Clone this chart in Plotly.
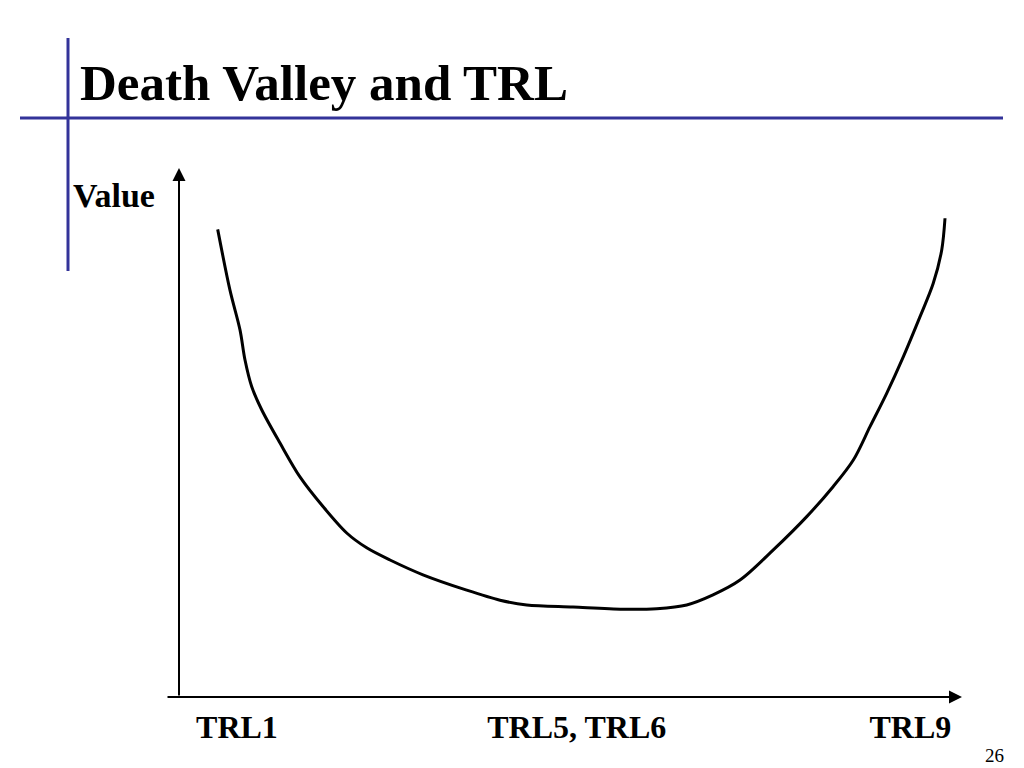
import plotly.graph_objects as go

# Curve data (x: maturity progress along TRL axis 0-100, y: value 0-100)
progress = [4.94, 6.51, 7.79, 8.43, 9.28, 10.56, 12.90, 15.45, 18.39, 21.42, 23.97, 26.95,
            31.16, 36.74, 41.00, 44.41, 50.32, 56.70, 61.01, 64.84, 68.20, 71.65, 75.90,
            80.17, 83.56, 86.12, 88.25, 90.38, 92.50, 94.64, 96.33, 97.41, 97.83]
value = [88.4, 76.9, 69.4, 63.7, 58.7, 54.3, 48.0, 41.6, 36.0, 31.0, 28.2, 25.9,
         23.1, 20.2, 18.3, 17.4, 17.0, 16.6, 16.7, 17.4, 19.3, 22.1, 27.8,
         34.1, 39.8, 44.8, 51.1, 57.4, 64.3, 71.9, 78.2, 84.5, 90.5]

tick_positions = [7.4, 50.8, 93.4]
tick_labels = ["TRL1", "TRL5, TRL6", "TRL9"]

title_text = "Death Valley and TRL"
y_label = "Value"
page_number = "26"

SERIF = "Liberation Serif, Times New Roman, serif"
BLUE = "#333399"

OFF = 8  # page body margin in the browser
FW, FH = 1024 - OFF, 768 - OFF

fig = go.Figure()
fig.add_trace(go.Scatter(
    x=progress, y=value, mode="lines",
    line=dict(color="black", width=3, shape="spline", smoothing=0.9),
    hoverinfo="skip", showlegend=False,
))

# plot domain in screen px: x 179..962, y 168..697
L, R, T, B = 179, 962, 168, 697
W, H = R - L, B - T

def px(xp):
    return (xp - L) / W

def py(yp):
    return (B - yp) / H

fig.update_layout(
    width=FW, height=FH,
    margin=dict(l=L - OFF, r=FW - (R - OFF), t=T - OFF, b=FH - (B - OFF), pad=0),
    paper_bgcolor="white", plot_bgcolor="white",
    showlegend=False,
    xaxis=dict(range=[0, 100], showgrid=False, zeroline=False, showline=False,
               tickmode="array", tickvals=tick_positions, ticktext=tick_labels,
               ticks="", ticklabelstandoff=8,
               tickfont=dict(family=SERIF, size=32, color="black", weight="bold")),
    yaxis=dict(range=[0, 100], showgrid=False, zeroline=False, showline=False,
               showticklabels=False, ticks=""),
    title=dict(text=title_text, xref="container", yref="container",
               x=(80 - OFF) / FW, xanchor="left", y=1 - (82 - OFF) / FH, yanchor="middle",
               font=dict(family=SERIF, size=51, color="black", weight="bold")),
)

# axes with arrows
fig.add_annotation(x=100, y=0, xref="x", yref="y", ax=(166 - L) / W * 100, ay=0,
                   axref="x", ayref="y", showarrow=True, arrowhead=2, arrowsize=1.3,
                   arrowwidth=2, arrowcolor="black", text="")
fig.add_annotation(x=0, y=100, xref="x", yref="y", ax=0, ay=0,
                   axref="x", ayref="y", showarrow=True, arrowhead=2, arrowsize=1.3,
                   arrowwidth=2, arrowcolor="black", text="")

# slide decoration lines
fig.add_shape(type="line", xref="paper", yref="paper", x0=px(20), x1=px(1003),
              y0=py(118), y1=py(118), line=dict(color=BLUE, width=3))
fig.add_shape(type="line", xref="paper", yref="paper", x0=px(68), x1=px(68),
              y0=py(38), y1=py(271), line=dict(color=BLUE, width=3))

fig.add_annotation(text=y_label, xref="paper", yref="paper", x=px(71), y=py(196),
                   xanchor="left", yanchor="middle", showarrow=False,
                   font=dict(family=SERIF, size=34, color="black", weight="bold"))
fig.add_annotation(text=page_number, xref="paper", yref="paper", x=px(994), y=py(755),
                   xanchor="center", yanchor="middle", showarrow=False,
                   font=dict(family=SERIF, size=19, color="black"))

fig.write_html("out.html")
